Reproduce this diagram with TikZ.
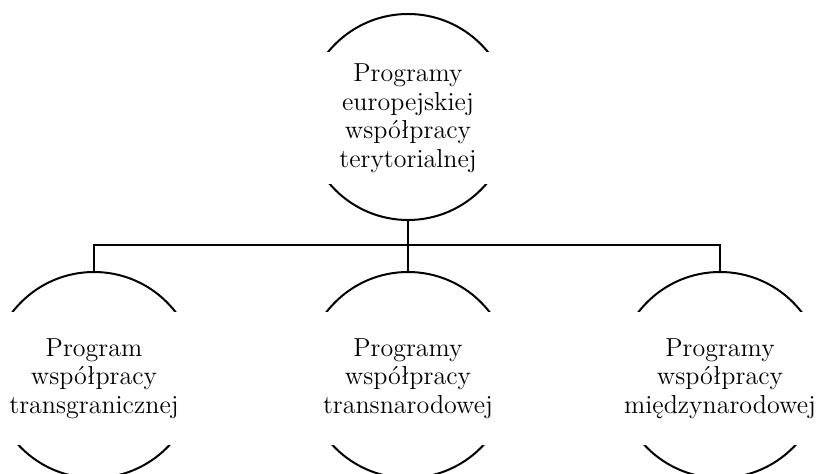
\documentclass[tikz,border=0pt]{standalone}
\usepackage{fontspec}
\usepackage{tikz}

\tikzset{
	ring/.style={circle, draw=black, line width=1pt, minimum size=103pt, inner sep=0pt},
	band/.style={fill=white, minimum width=110pt, minimum height=66pt, inner sep=0pt,
		align=center, font=\fontsize{13pt}{14.25pt}\selectfont},
}

\begin{document}
\begin{tikzpicture}[x=0.5pt, y=-0.5pt]
		\useasboundingbox (0,0) rectangle (822,474);
		
		%draw circles
		\node[ring] (main) at (408,117) {};
		\node[ring] (left) at (94,375) {};
		\node[ring] (middle) at (408,375) {};
		\node[ring] (right) at (720,375) {};
		
		%connectors
		\coordinate (junction) at (408,245.5);
		\draw[line width=1pt] (main.south) -- (junction);
		\foreach \n in {left,middle,right}
		\draw[line width=1pt] (junction) -| (\n.north);
		
		%names
		\node[band, yshift=-0.75pt] (main text) at (main) {Programy\\europejskiej\\współpracy\\terytorialnej};
		\node[band, yshift=-1.75pt] (left text) at (left) {Program\\współpracy\\transgranicznej};
		\node[band, yshift=-1.75pt] (middle text) at (middle) {Programy\\współpracy\\transnarodowej};
		\node[band, yshift=-1.75pt] (right text) at (right) {Programy\\współpracy\\międzynarodowej};
	
	\end{tikzpicture}
\end{document}
